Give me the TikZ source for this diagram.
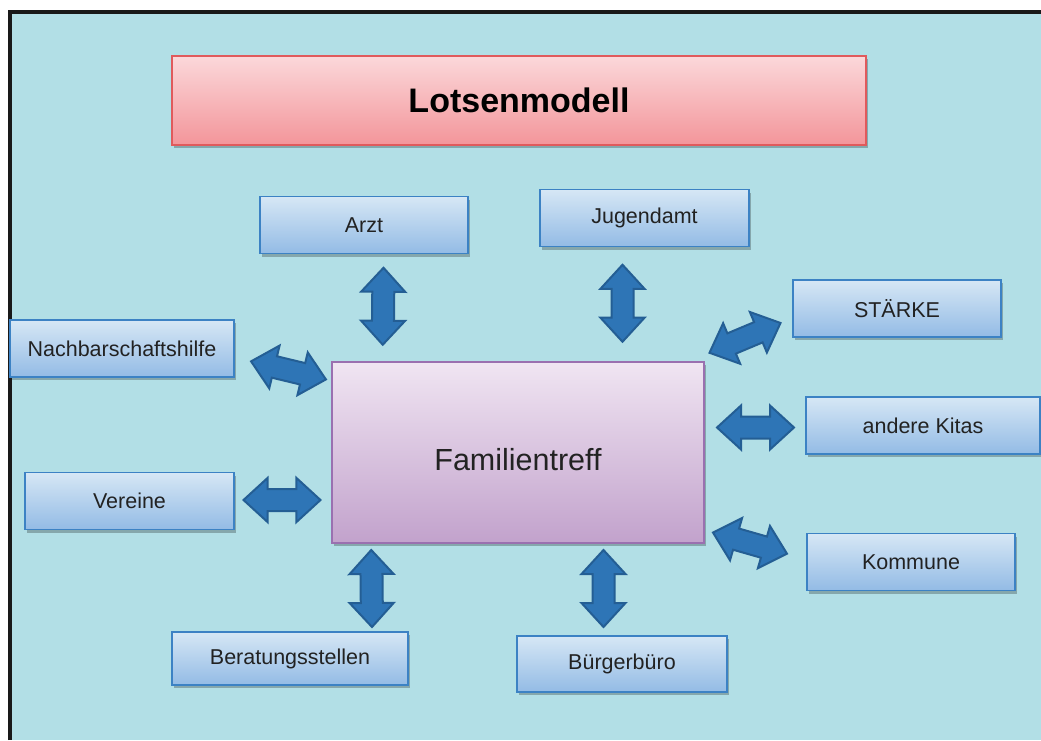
\documentclass[tikz,border=0pt]{standalone}
\usepackage{fontspec}
\setmainfont{Liberation Sans}
\usepackage{tikz}
\usetikzlibrary{shapes.arrows, shadows}

\definecolor{bgblue}{HTML}{B2DFE6}
\definecolor{boxtop}{HTML}{D6E7F5}
\definecolor{boxbot}{HTML}{93BBE5}
\definecolor{boxline}{HTML}{3C82C4}
\definecolor{hubtop}{HTML}{F0E5F2}
\definecolor{hubbot}{HTML}{C2A2CC}
\definecolor{hubline}{HTML}{9A70B0}
\definecolor{headtop}{HTML}{FBD8DA}
\definecolor{headbot}{HTML}{F3959A}
\definecolor{headline}{HTML}{E05A5C}
\definecolor{arrowfill}{HTML}{2E75B6}
\definecolor{arrowline}{HTML}{245E94}
\definecolor{txt}{HTML}{222222}

\begin{document}
\begin{tikzpicture}[x=1pt, y=-1pt,
    shade/.style = {drop shadow={shadow xshift=1.5pt, shadow yshift=-3pt, opacity=.25, fill=black}},
    partner/.style = {shade, draw=boxline, line width=1.5pt, rectangle, top color=boxtop, bottom color=boxbot, minimum width=208pt, minimum height=57pt, inner sep=0pt, text=txt, font=\fontsize{21.5}{26}\selectfont},
    hub/.style = {shade, draw=hubline, line width=1.5pt, rectangle, top color=hubtop, bottom color=hubbot, minimum width=372pt, minimum height=181pt, text height=36pt, text=txt, font=\fontsize{30.5}{36}\selectfont},
    head/.style = {shade, draw=headline, line width=1.5pt, rectangle, top color=headtop, bottom color=headbot, minimum width=694pt, minimum height=89pt, text=black, font=\fontsize{34}{40}\selectfont\bfseries},
    link/.style = {double arrow, sloped, draw=arrowline, fill=arrowfill, line width=2pt, inner xsep=0pt, inner ysep=10pt, minimum height=77pt, double arrow head extend=11pt, double arrow tip angle=85}]
    \useasboundingbox (0,0) rectangle (1041,740);
    \fill[bgblue] (10,12) rectangle (1041,740);
    \draw[line width=4pt, black!90] (10,740) -- (10,12) -- (1041,12);

    \node[hub] (1) at (518,452.5) {Familientreff};
    \node[head] (2) at (519,100.5) {Lotsenmodell};
    \node[partner] (3) at (364,225) {Arzt};
    \node[partner, minimum width=209pt] (4) at (644.5,218) {Jugendamt};
    \node[partner] (5) at (897,308.5) {STÄRKE};
    \node[partner, minimum width=234pt] (6) at (923,425.5) {andere Kitas};
    \node[partner] (7) at (911,562) {Kommune};
    \node[partner, minimum width=210pt, minimum height=56pt] (8) at (622,664) {Bürgerbüro};
    \node[partner, minimum width=236pt, minimum height=53pt] (9) at (290,658.5) {Beratungsstellen};
    \node[partner, minimum width=209pt] (10) at (129.5,501) {Vereine};
    \node[partner, minimum width=224pt] (11) at (122,348.5) {Nachbarschaftshilfe};

    \path ([shift={(19.5,14)}]3.south) -- node[link] {} ([shift={(51.5,-17)}]1.north west);
    \path ([shift={(-22,18)}]4.south) -- node[link] {} ([shift={(104.5,-20)}]1.north);
    \path ([shift={(6,-9)}]1.north east) -- node[link] {} ([shift={(-13,15)}]5.west);
    \path ([shift={(13,-25)}]1.east) -- node[link] {} ([shift={(-12,2)}]6.west);
    \path ([shift={(9,-11)}]1.south east) -- node[link] {} ([shift={(-20,-8.5)}]7.west);
    \path ([shift={(85.5,7)}]1.south) -- node[link] {} ([shift={(-18.5,-9)}]8.north);
    \path ([shift={(40,7)}]1.south west) -- node[link] {} ([shift={(82,-5)}]9.north);
    \path ([shift={(9,-1)}]10.east) -- node[link] {} ([shift={(-11,47.5)}]1.west);
    \path ([shift={(17,13)}]11.east) -- node[link] {} ([shift={(-6,18)}]1.north west);
\end{tikzpicture}
\end{document}
